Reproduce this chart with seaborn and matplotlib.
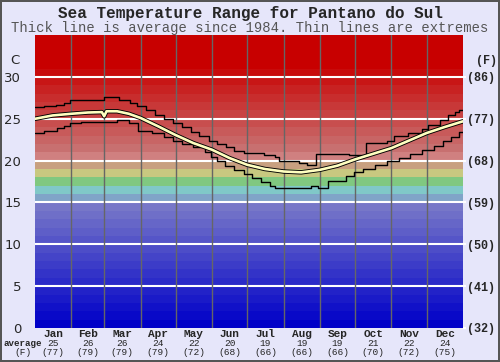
import numpy as np
import pandas as pd
import matplotlib
matplotlib.use("Agg")
import matplotlib.pyplot as plt
import matplotlib.transforms as mtransforms
import seaborn as sns

months = ["Jan", "Feb", "Mar", "Apr", "May", "Jun", "Jul", "Aug", "Sep", "Oct", "Nov", "Dec"]
month_avg_c = ["25", "26", "26", "24", "22", "20", "19", "19", "19", "21", "22", "24"]
month_avg_f = ["(77)", "(79)", "(79)", "(79)", "(72)", "(68)", "(66)", "(66)", "(66)", "(70)", "(72)", "(75)"]
month_start = [0, 31, 59, 90, 120, 151, 181, 212, 243, 273, 304, 334, 365]

c_ticks = [0, 5, 10, 15, 20, 25, 30]
f_labels = ["(32)", "(41)", "(50)", "(59)", "(68)", "(77)", "(86)"]

# average temperature (day of year, deg C)
avg_day = [0, 15, 31, 45, 57, 59, 61, 70, 80, 90, 105, 120, 135, 151, 166, 181,
           196, 212, 227, 243, 258, 273, 288, 304, 319, 334, 349, 365]
avg_temp = [25.0, 25.4, 25.6, 25.75, 25.8, 25.3, 25.9, 25.9, 25.6, 25.1, 24.1, 23.05,
            22.1, 21.3, 20.3, 19.5, 19.0, 18.7, 18.6, 18.9, 19.4, 20.15, 20.8, 21.5,
            22.4, 23.3, 24.0, 24.7]

# highest on record
max_day = [0, 8, 18, 25, 30, 59, 72, 81, 87, 95, 102, 110, 118, 125, 133, 140, 148,
           155, 163, 170, 178, 195, 205, 208, 225, 232, 240, 268, 282, 300, 306, 318,
           330, 335, 345, 352, 358, 362, 365]
max_temp = [26.4, 26.5, 26.6, 26.9, 27.3, 27.6, 27.2, 26.85, 26.5, 26.0, 25.4, 25.0,
            24.5, 24.0, 23.4, 23.0, 22.4, 22.0, 21.6, 21.2, 20.9, 20.7, 20.4, 19.9,
            19.7, 19.5, 20.8, 20.7, 22.1, 22.4, 22.9, 23.3, 23.8, 24.3, 24.8, 25.4,
            25.8, 26.0, 26.0]

# lowest on record
min_day = [0, 8, 19, 25, 30, 39, 70, 80, 88, 100, 110, 118, 125, 135, 145, 150, 155,
           162, 170, 178, 185, 193, 200, 205, 235, 241, 250, 265, 272, 280, 290, 300,
           310, 320, 330, 340, 348, 355, 362, 365]
min_temp = [23.3, 23.5, 23.85, 24.1, 24.45, 24.6, 24.8, 24.45, 23.6, 23.3, 22.8, 22.3,
            22.0, 21.6, 21.0, 20.4, 19.9, 19.4, 18.9, 18.4, 17.9, 17.4, 17.0, 16.7,
            17.0, 16.7, 17.6, 18.2, 18.7, 19.0, 19.5, 19.9, 20.3, 20.8, 21.3, 21.8,
            22.3, 22.8, 23.4, 23.4]

avg_df = pd.DataFrame({"day": avg_day, "temp": avg_temp})
max_df = pd.DataFrame({"day": max_day, "temp": max_temp})
min_df = pd.DataFrame({"day": min_day, "temp": min_temp})

sns.set_style("white")
plt.rcParams["font.family"] = ["DejaVu Sans"]

bg = "#e6e6fa"
fig = plt.figure(figsize=(5.0, 3.62), dpi=100, facecolor=bg)
fig.patch.set_edgecolor("#555555")
fig.patch.set_linewidth(1.5)
ax = fig.add_axes([0.07, 0.094, 0.856, 0.809])
ax.set_facecolor(bg)


def band_color(i):
    if i < 15:
        v = i * 8.5
        return (v / 255, v / 255, 200 / 255)
    fixed = {15: "#80a4c8", 16: "#80c8c8", 17: "#80c880", 18: "#c8c880",
             19: "#c8a080", 20: "#d08080"}
    if i in fixed:
        return fixed[i]
    v = max(0.0, 112 * (31 - i) / 10)
    return (200 / 255, v / 255, v / 255)


for i in range(35):
    ax.axhspan(i, i + 1, color=band_color(i), lw=0, zorder=0)

for t in c_ticks[1:]:
    ax.axhline(t, color="white", lw=1.5, zorder=1)
for d in month_start[1:-1]:
    ax.axvline(d, color="#666666", lw=1, zorder=1)

sns.lineplot(data=max_df, x="day", y="temp", ax=ax, color="black", lw=1.0,
             drawstyle="steps-post", estimator=None, zorder=3)
sns.lineplot(data=min_df, x="day", y="temp", ax=ax, color="black", lw=1.0,
             drawstyle="steps-post", estimator=None, zorder=3)
sns.lineplot(data=avg_df, x="day", y="temp", ax=ax, color="black", lw=3.2,
             estimator=None, zorder=4)
sns.lineplot(data=avg_df, x="day", y="temp", ax=ax, color="#ffffc0", lw=1.9,
             estimator=None, zorder=5)

ax.set_xlim(0, 365)
ax.set_ylim(0, 35)
ax.set_xlabel("")
ax.set_ylabel("")
ax.set_xticks([])
ax.set_yticks(c_ticks)
ax.set_yticklabels([str(t) for t in c_ticks], fontsize=9.5)
ax.tick_params(axis="y", length=0, pad=10)
for s in ax.spines.values():
    s.set_visible(False)

ax2 = ax.twinx()
ax2.set_ylim(0, 35)
ax2.set_yticks(c_ticks)
ax2.set_yticklabels(f_labels, family="Liberation Mono", fontweight="bold", fontsize=8.5)
ax2.tick_params(axis="y", length=2, color="white", width=1.5, pad=1)
for s in ax2.spines.values():
    s.set_visible(False)

ax.text(-0.047, 0.912, "C", transform=ax.transAxes, ha="center", va="center",
        fontsize=9.5)
ax2.text(1.055, 0.912, "(F)", transform=ax.transAxes, ha="center", va="center",
         family="Liberation Mono", fontweight="bold", fontsize=8.5)

fig.text(0.5, 0.962, "Sea Temperature Range for Pantano do Sul", ha="center",
         va="center", family="Liberation Mono", fontweight="bold", fontsize=11.5)
fig.text(0.5, 0.922, "Thick line is average since 1984. Thin lines are extremes",
         ha="center", va="center", family="Liberation Mono", fontsize=10,
         color="#555555")

tr = mtransforms.blended_transform_factory(ax.transData, fig.transFigure)
for i, m in enumerate(months):
    xc = (month_start[i] + month_start[i + 1]) / 2
    fig.text(xc, 0.077, m, transform=tr, ha="center", va="center",
             family="Liberation Mono", fontweight="bold", fontsize=8)
    fig.text(xc, 0.052, month_avg_c[i], transform=tr, ha="center", va="center",
             family="Liberation Mono", fontsize=6.8)
    fig.text(xc, 0.027, month_avg_f[i], transform=tr, ha="center", va="center",
             family="Liberation Mono", fontsize=6.8)
fig.text(0.045, 0.052, "average", ha="center", va="center",
         family="Liberation Mono", fontweight="bold", fontsize=6.6)
fig.text(0.045, 0.027, "(F)", ha="center", va="center",
         family="Liberation Mono", fontsize=6.8)

fig.savefig("out.png", dpi=100, facecolor=bg, edgecolor="#555555")
